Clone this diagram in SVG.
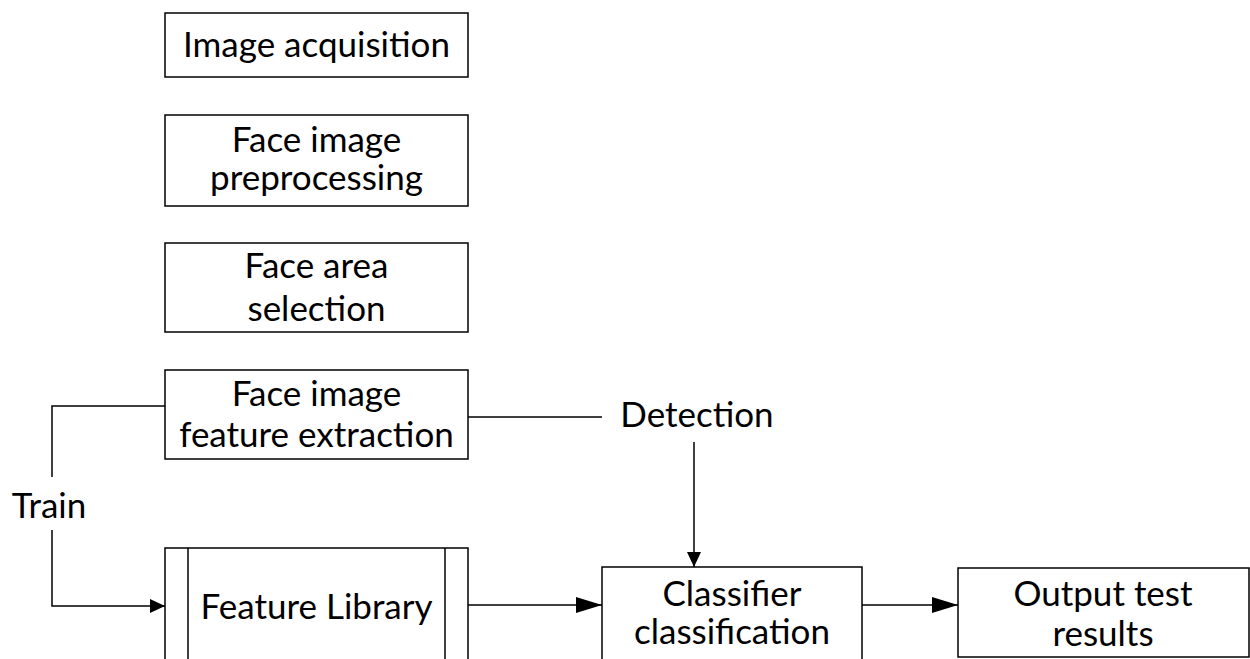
<svg xmlns="http://www.w3.org/2000/svg" width="1250" height="659" viewBox="0 0 1250 659">
<style>
.box{fill:#fff;stroke:#000;stroke-width:1.5}
.ln{fill:none;stroke:#000;stroke-width:1.5}
text{font-family:Lato,"Liberation Sans",sans-serif;font-size:35px;fill:#000;text-anchor:middle}
</style>
<defs>
<marker id="arr" markerWidth="15" markerHeight="14" refX="15" refY="7" orient="auto" markerUnits="userSpaceOnUse">
<path d="M0,0 L15,7 L0,14 Z" fill="#000"/>
</marker>
<marker id="arrL" markerWidth="26" markerHeight="16" refX="26" refY="8" orient="auto" markerUnits="userSpaceOnUse">
<path d="M0,0 L26,8 L0,16 Z" fill="#000"/>
</marker>
</defs>
<rect width="1250" height="659" fill="#fff"/>
<g id="n1"><rect class="box" x="165" y="13" width="303" height="64"/><text x="316.5" y="57">Image acquisition</text></g>
<g id="n2"><rect class="box" x="165" y="115" width="303" height="91"/><text x="316.5" y="152">Face image</text><text x="316.5" y="190">preprocessing</text></g>
<g id="n3"><rect class="box" x="165" y="243" width="303" height="89"/><text x="316.5" y="278">Face area</text><text x="316.5" y="321">selection</text></g>
<g id="n4"><rect class="box" x="165" y="370" width="303" height="89"/><text x="316.5" y="406">Face image</text><text x="316.5" y="447">feature extraction</text></g>
<g id="n5"><rect class="box" x="165" y="548" width="303" height="130"/><line class="ln" x1="188" y1="548" x2="188" y2="659"/><line class="ln" x1="445" y1="548" x2="445" y2="659"/><text x="316.5" y="619">Feature Library</text></g>
<g id="n6"><rect class="box" x="602" y="567" width="260" height="120"/><text x="732" y="606">Classifier</text><text x="732" y="644">classification</text></g>
<g id="n7"><rect class="box" x="958" y="568" width="291" height="89"/><text x="1103" y="606">Output test</text><text x="1103" y="646">results</text></g>
<g id="labels"><text x="49" y="518">Train</text><text x="697" y="427">Detection</text></g>
<g id="connectors">
<path class="ln" d="M165,406 H52 V477"/>
<path class="ln" d="M52,530 V606 H165" marker-end="url(#arr)"/>
<path class="ln" d="M468,417 H602"/>
<path class="ln" d="M694,442 V567" marker-end="url(#arr)"/>
<path class="ln" d="M468,605 H602" marker-end="url(#arrL)"/>
<path class="ln" d="M862,605 H958" marker-end="url(#arrL)"/>
</g>
</svg>
